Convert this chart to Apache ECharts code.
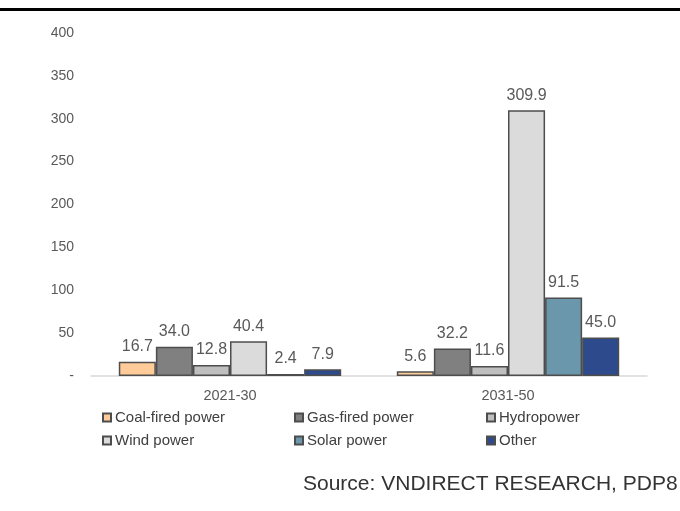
<!DOCTYPE html>
<html>
<head>
<meta charset="utf-8">
<style>
  html, body { margin: 0; padding: 0; background: #fff; }
  #chart { width: 680px; height: 511px; }
</style>
<script src="https://cdn.jsdelivr.net/npm/echarts@6/dist/echarts.min.js"></script>
</head>
<body>
<div id="chart"></div>
<script>
// periods on the x axis
const periods = ['2021-30', '2031-50'];

// series names and values (GW)
const seriesNames = ['Coal-fired power', 'Gas-fired power', 'Hydropower', 'Wind power', 'Solar power', 'Other'];
const coal  = [16.7, 5.6];
const gas   = [34.0, 32.2];
const hydro = [12.8, 11.6];
const wind  = [40.4, 309.9];
const solar = [2.4, 91.5];
const other = [7.9, 45.0];

const yTicks = [0, 50, 100, 150, 200, 250, 300, 350, 400];
const sourceText = 'Source: VNDIRECT RESEARCH, PDP8';

const colors = ['#FFCC99', '#808080', '#BFBFBF', '#DBDBDB', '#6A97AB', '#2D4A8C'];
const values = [coal, gas, hydro, wind, solar, other];

const chart = echarts.init(document.getElementById('chart'), null, { renderer: 'canvas' });

const series = seriesNames.map((name, i) => ({
  name, type: 'bar', data: values[i],
  barGap: '0%', barCategoryGap: '20%',
  itemStyle: { color: colors[i], borderColor: '#4d4d4d', borderWidth: 1.5 },
  label: {
    show: true, position: 'top', distance: 7,
    color: '#595959', fontSize: 16, fontFamily: 'Liberation Sans',
    formatter: p => p.value.toFixed(1)
  }
}));

// legend laid out as a 3 x 2 grid
const colX = [102, 294, 486];
const rowY = [410, 433];
const legends = seriesNames.map((name, i) => ({
  data: [name],
  left: colX[i % 3], top: rowY[Math.floor(i / 3)],
  icon: 'rect', itemWidth: 8, itemHeight: 8, itemGap: 0,
  padding: 0,
  textStyle: { color: '#404040', fontSize: 15, fontFamily: 'Liberation Sans', padding: [0, 0, 0, -1] }
}));

chart.setOption({
  animation: false,
  backgroundColor: '#fff',
  grid: { left: 91, right: 33, top: 33, bottom: 135 },
  legend: legends,
  xAxis: {
    type: 'category', data: periods,
    axisLine: { lineStyle: { color: '#D9D9D9', width: 1.5 } },
    axisTick: { show: false },
    axisLabel: { color: '#595959', fontSize: 14.5, fontFamily: 'Liberation Sans', margin: 12 }
  },
  yAxis: {
    type: 'value', min: yTicks[0], max: yTicks[yTicks.length - 1], interval: 50,
    axisLine: { show: false }, axisTick: { show: false },
    splitLine: { show: false },
    axisLabel: {
      color: '#595959', fontSize: 14, fontFamily: 'Liberation Sans', margin: 17,
      formatter: v => v === 0 ? '-' : String(v)
    }
  },
  series,
  graphic: [
    { type: 'rect', shape: { x: 0, y: 8, width: 680, height: 3 }, style: { fill: '#000' } },
    {
      type: 'text', left: 303, top: 474,
      style: { text: sourceText, fill: '#333', fontSize: 21, fontFamily: 'Liberation Sans' }
    }
  ]
});
</script>
</body>
</html>
